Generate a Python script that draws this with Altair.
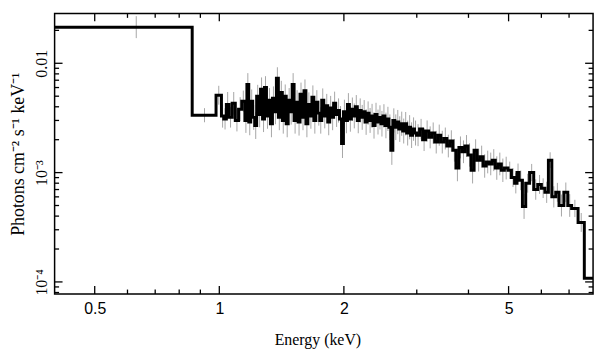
import altair as alt
import pandas as pd

# ---- data (energy bin edges in keV, flux in 1e-3 photons/cm2/s/keV)
edges = [0.40, 0.86, 0.982,
         1.012, 1.025, 1.040, 1.055, 1.074, 1.093, 1.113, 1.133,
         1.153, 1.166, 1.178, 1.191, 1.204, 1.218, 1.231, 1.245, 1.258, 1.272,
         1.286, 1.300, 1.315, 1.329, 1.344, 1.359, 1.374, 1.389, 1.404, 1.420,
         1.435, 1.451, 1.467, 1.483, 1.500, 1.516, 1.533, 1.550, 1.567, 1.584,
         1.602, 1.619, 1.637, 1.655, 1.674, 1.692, 1.711, 1.730, 1.749, 1.768,
         1.788, 1.808, 1.828, 1.848, 1.868, 1.889, 1.910, 1.931, 1.952, 1.974,
         1.995, 2.017, 2.040, 2.062, 2.085, 2.108, 2.131, 2.155, 2.178, 2.202,
         2.227, 2.251, 2.276, 2.301, 2.327, 2.352, 2.378, 2.405, 2.431, 2.458,
         2.485, 2.513, 2.541, 2.569, 2.597, 2.626, 2.655, 2.684, 2.714, 2.744,
         2.774, 2.805, 2.836, 2.867, 2.899, 2.931, 2.963, 2.996,
         3.047, 3.099, 3.151, 3.205, 3.259, 3.315, 3.371, 3.428, 3.487, 3.546,
         3.606, 3.667, 3.730, 3.793, 3.858, 3.923, 3.990, 4.058, 4.127, 4.197,
         4.268, 4.340, 4.414, 4.489, 4.565, 4.643, 4.722, 4.802, 4.884, 4.983,
         5.080, 5.170, 5.240, 5.300, 5.400, 5.500, 5.620, 5.750, 5.880, 6.000,
         6.120, 6.240, 6.360, 6.500, 6.620, 6.800, 6.950, 7.100, 7.360, 7.620,
         8.000]

flux_e3 = [21.4, 3.35, 5.1,
           3.3, 3.1, 4.2, 3.2, 4.3, 3.0, 3.8, 4.5,
           3.0, 6.4, 2.9, 4.5, 3.2, 2.7, 5.0, 3.4, 5.8, 3.1,
           6.0, 3.3, 4.6, 2.8, 4.8, 3.6, 7.3, 3.2, 5.4, 3.0,
           5.0, 2.8, 4.6, 3.6, 6.4, 3.0, 4.4, 2.9, 5.2, 3.2,
           5.6, 2.8, 4.2, 3.3, 4.9, 3.0, 4.4, 3.5, 3.0, 4.6,
           3.3, 4.1, 2.9, 3.9, 3.2, 4.3, 3.4, 3.7, 3.1, 1.85,
           3.6, 3.0, 4.2, 3.1, 3.8, 3.3, 4.0, 3.0, 3.7, 3.2,
           3.6, 2.9, 3.5, 3.0, 3.3, 2.7, 3.4, 2.9, 3.2, 2.8,
           3.3, 2.7, 3.1, 2.6, 1.6, 3.0, 2.6, 2.9, 2.5, 2.8,
           2.4, 2.8, 2.3, 2.6, 2.2, 2.5, 2.3,
           2.2, 2.5, 2.0, 2.4, 2.1, 2.3, 1.9, 2.2, 1.9, 2.05,
           1.75, 1.95, 1.6, 1.1, 1.7, 1.55, 1.75, 1.45, 1.05, 1.6,
           1.3, 1.4, 1.15, 1.25, 1.2, 1.3, 1.1, 1.2, 1.05, 1.1,
           1.05, 0.9, 0.8, 1.0, 0.85, 0.49, 0.8, 1.0, 0.7, 0.78,
           0.72, 0.66, 1.3, 0.6, 0.66, 0.5, 0.66, 0.5, 0.47, 0.35,
           0.108]

err_frac = [0.26, 0.16, 0.22,
            0.28, 0.25, 0.30, 0.24, 0.27, 0.26, 0.29, 0.25,
            0.30, 0.27, 0.32, 0.28, 0.30, 0.33, 0.27, 0.31, 0.28, 0.32,
            0.27, 0.31, 0.29, 0.33, 0.28, 0.30, 0.26, 0.31, 0.28, 0.32,
            0.28, 0.33, 0.29, 0.31, 0.27, 0.32, 0.29, 0.33, 0.28, 0.31,
            0.27, 0.33, 0.29, 0.31, 0.28, 0.32, 0.29, 0.30, 0.32, 0.28,
            0.30, 0.28, 0.32, 0.29, 0.31, 0.28, 0.30, 0.29, 0.31, 0.36,
            0.29, 0.31, 0.27, 0.31, 0.28, 0.30, 0.28, 0.31, 0.29, 0.30,
            0.28, 0.31, 0.28, 0.30, 0.29, 0.32, 0.28, 0.30, 0.29, 0.31,
            0.28, 0.31, 0.29, 0.31, 0.36, 0.29, 0.31, 0.29, 0.31, 0.29,
            0.30, 0.28, 0.30, 0.29, 0.31, 0.28, 0.30,
            0.26, 0.24, 0.27, 0.25, 0.26, 0.25, 0.27, 0.25, 0.27, 0.26,
            0.27, 0.25, 0.27, 0.32, 0.26, 0.27, 0.26, 0.28, 0.32, 0.26,
            0.27, 0.26, 0.28, 0.27, 0.27, 0.26, 0.28, 0.27, 0.28, 0.27,
            0.20, 0.22, 0.24, 0.21, 0.23, 0.30, 0.22, 0.20, 0.24, 0.22,
            0.23, 0.25, 0.18, 0.25, 0.22, 0.26, 0.23, 0.27, 0.20, 0.22,
            0.0]

x_major = [0.5, 1, 2, 5]
x_minor = [0.6, 0.7, 0.8, 0.9, 3, 4, 6, 7]
y_major = [1e-2, 1e-3, 1e-4]
y_minor = [8e-5, 9e-5, 2e-4, 3e-4, 4e-4, 5e-4, 6e-4, 7e-4, 8e-4, 9e-4,
           2e-3, 3e-3, 4e-3, 5e-3, 6e-3, 7e-3, 8e-3, 9e-3, 2e-2]

# ---- tables
flux = [f * 1e-3 for f in flux_e3]
steps = pd.DataFrame({"E": edges, "F": flux + [flux[-1]]})
lo_e, hi_e = edges[:-1], edges[1:]
bars = pd.DataFrame({
    "Ec": [(a + b) / 2 for a, b in zip(lo_e, hi_e)],
    "lo": [f / (1 + e) for f, e in zip(flux, err_frac)],
    "hi": [f * (1 + e) for f, e in zip(flux, err_frac)],
})

W, H = 543, 283
MAJ, MIN = 8, 4.5
xs = alt.Scale(type="log", domain=[0.4, 8.0], nice=False)
ys = alt.Scale(type="log", domain=[7.75e-5, 0.0286], nice=False)

x_main = alt.Axis(orient="bottom", values=x_major, labelExpr="'' + datum.value",
                  ticks=False, tickSize=0, domain=False, grid=False,
                  labelFont="Liberation Sans", labelFontSize=16, labelColor="black",
                  labelPadding=7, title="Energy (keV)", titleFont="Liberation Serif",
                  titleFontSize=16, titleFontWeight="normal", titleColor="black",
                  titleX=265, titleY=38, titleBaseline="top")
y_main = alt.Axis(orient="left", values=y_major,
                  labelExpr="datum.value > 0.005 ? '0.01' : (datum.value > 0.0005 ? '10⁻³' : '10⁻⁴')",
                  labelAngle=270, labelAlign="center", labelBaseline="bottom",
                  ticks=False, tickSize=0, domain=False, grid=False,
                  labelFont="Liberation Serif", labelFontSize=16, labelColor="black",
                  labelPadding=5, title="Photons cm⁻² s⁻¹ keV⁻¹",
                  titleFont="Liberation Serif", titleFontSize=18,
                  titleFontWeight="normal", titleColor="black",
                  titleX=-36, titleY=H / 2, titleAngle=270, titleBaseline="middle",
                  titleAlign="center")

err_layer = alt.Chart(bars).mark_rule(color="#a6a6a6", strokeWidth=1, clip=True).encode(
    x=alt.X("Ec:Q", scale=xs, axis=x_main),
    y=alt.Y("lo:Q", scale=ys, axis=y_main),
    y2="hi:Q",
)

step_layer = alt.Chart(steps).mark_line(interpolate="step-after", color="black",
                                        strokeWidth=3, clip=True).encode(
    x=alt.X("E:Q", scale=xs, axis=x_main),
    y=alt.Y("F:Q", scale=ys, axis=y_main),
)


def xticks(vals, y0, y1):
    return alt.Chart(pd.DataFrame({"v": vals})).mark_rule(
        color="black", strokeWidth=1.3).encode(
        x=alt.X("v:Q", scale=xs, axis=x_main), y=alt.value(y0), y2=alt.value(y1))


def yticks(vals, x0, x1):
    return alt.Chart(pd.DataFrame({"v": vals})).mark_rule(
        color="black", strokeWidth=1.3).encode(
        y=alt.Y("v:Q", scale=ys, axis=y_main), x=alt.value(x0), x2=alt.value(x1))


tick_layers = [
    xticks(x_major, H, H - MAJ), xticks(x_minor, H, H - MIN),
    xticks(x_major, 0, MAJ), xticks(x_minor, 0, MIN),
    yticks(y_major, 0, MAJ), yticks(y_minor, 0, MIN),
    yticks(y_major, W, W - MAJ), yticks(y_minor, W, W - MIN),
]

chart = alt.layer(err_layer, step_layer, *tick_layers).properties(
    width=W, height=H,
    autosize=alt.AutoSizeParams(type="none"),
    padding={"left": 47, "top": 4, "right": 8, "bottom": 54},
    background="white",
).configure_view(stroke="black", strokeWidth=1.5)

chart.save("out.html", embed_options={"renderer": "svg", "actions": False})
